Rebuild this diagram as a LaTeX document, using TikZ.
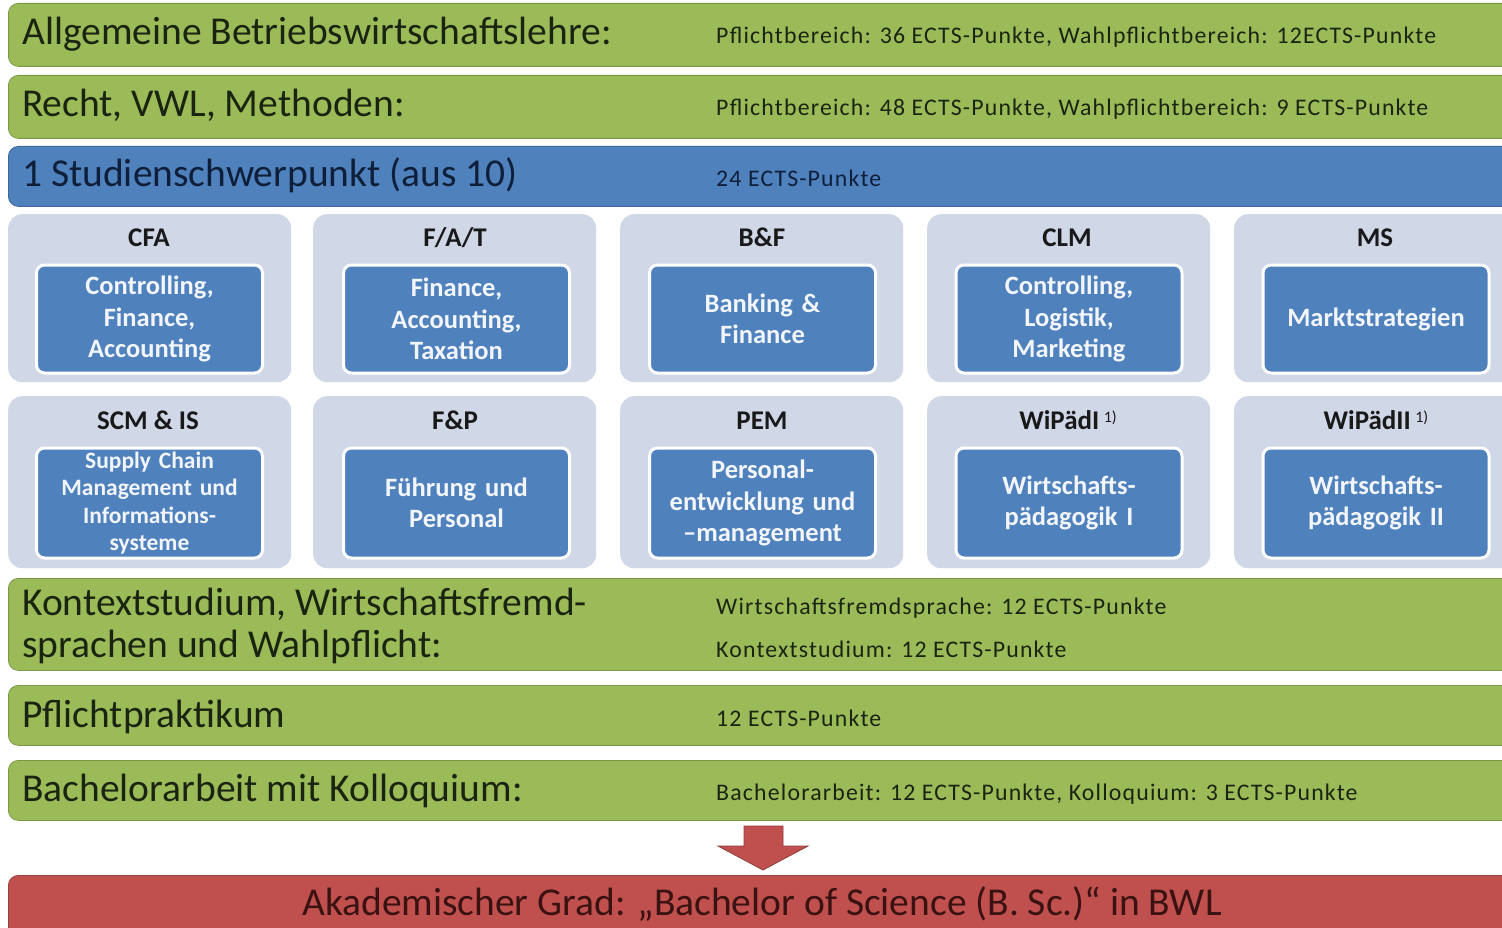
\documentclass[tikz,border=0pt]{standalone}
\usepackage{fontspec}
\setmainfont{Carlito}
\newfontfamily\smfont[LetterSpace=5]{Carlito}
\definecolor{bargreen}{HTML}{9BBB59}
\definecolor{barblue}{HTML}{4F81BD}
\definecolor{panelc}{HTML}{D0D7E7}
\definecolor{barred}{HTML}{C0504D}
\definecolor{gtext}{HTML}{1A2410}
\definecolor{btext}{HTML}{0F1F3A}
\definecolor{rtext}{HTML}{3A1212}
\definecolor{wtext}{HTML}{F2F5FB}
\tikzset{
  gbar/.style={fill=bargreen, draw=bargreen!80!black, line width=0.8pt, rounded corners=10pt, minimum width=1540pt, inner sep=0pt, anchor=north west},
  bbar/.style={gbar, fill=barblue, draw=barblue!80!black},
  rbar/.style={gbar, fill=barred, draw=barred!80!black},
  bigtxt/.style={font=\fontsize{39.5}{44}\selectfont, inner sep=0pt, anchor=base west},
  smtxt/.style={font=\smfont\fontsize{23.8}{26}\selectfont, inner sep=0pt, anchor=base west},
  panel/.style={fill=panelc, rounded corners=14pt, minimum width=283pt, inner sep=0pt, anchor=north west},
  ttl/.style={font=\bfseries\fontsize{27}{30}\selectfont, text=black!90, inner sep=0pt, anchor=base},
  inbox/.style={fill=barblue, draw=white, line width=3pt, rounded corners=8pt, minimum width=226pt, text width=222pt, align=center, text=wtext, font=\bfseries\fontsize{26.5}{31.5}\selectfont, inner sep=0pt},
  inboxs/.style={inbox, font=\bfseries\fontsize{23.5}{27.3}\selectfont},
  sup/.style={font=\mdseries\fontsize{16}{16}\selectfont}
}
\begin{document}
\begin{tikzpicture}[x=1pt,y=-1pt]
\useasboundingbox (0,0) rectangle (1502,928);
\clip (0,0) rectangle (1502,928);
\fill[white] (0,0) rectangle (1502,928);

% top bars
\node[gbar, minimum height=63pt] (abwl) at (8,3) {};
\node[bigtxt, text=gtext] (abwlT) at (22,45) {Allgemeine Betriebswirtschaftslehre:};
\node[smtxt, text=gtext] (abwlP) at (716,44) {Pflichtbereich: 36 ECTS-Punkte, Wahlpflichtbereich: 12ECTS-Punkte};

\node[gbar, minimum height=63pt] (rvm) at (8,75) {};
\node[bigtxt, text=gtext] (rvmT) at (22,117) {Recht, VWL, Methoden:};
\node[smtxt, text=gtext] (rvmP) at (716,116) {Pflichtbereich: 48 ECTS-Punkte, Wahlpflichtbereich: 9 ECTS-Punkte};

\node[bbar, minimum height=60pt] (ssp) at (8,146) {};
\node[bigtxt, text=btext] (sspT) at (22,187) {1 Studienschwerpunkt (aus 10)};
\node[smtxt, text=btext] (sspP) at (716,187) {24 ECTS-Punkte};

% grid row 1
\node[panel, minimum height=168pt] (p11) at (8,214) {};
\node[panel, minimum height=168pt] (p12) at (313,214) {};
\node[panel, minimum height=168pt] (p13) at (620,214) {};
\node[panel, minimum height=168pt] (p14) at (927,214) {};
\node[panel, minimum height=168pt] (p15) at (1234,214) {};
\node[ttl] (t11) at (149,247) {CFA};
\node[ttl] (t12) at (455,247) {F/A/T};
\node[ttl] (t13) at (762,247) {B\&F};
\node[ttl] (t14) at (1067,247) {CLM};
\node[ttl] (t15) at (1375,247) {MS};
\node[inbox, minimum height=108pt] (b11) at (149.5,319) {Controlling,\\Finance,\\Accounting};
\node[inbox, minimum height=108pt] (b12) at (456.5,319) {Finance,\\Accounting,\\Taxation};
\node[inbox, minimum height=108pt] (b13) at (762.5,319) {Banking \&\\Finance};
\node[inbox, minimum height=108pt] (b14) at (1069,319) {Controlling,\\Logistik,\\Marketing};
\node[inbox, minimum height=108pt] (b15) at (1376,319) {Marktstrategien};

% grid row 2
\node[panel, minimum height=172pt] (p21) at (8,396) {};
\node[panel, minimum height=172pt] (p22) at (313,396) {};
\node[panel, minimum height=172pt] (p23) at (620,396) {};
\node[panel, minimum height=172pt] (p24) at (927,396) {};
\node[panel, minimum height=172pt] (p25) at (1234,396) {};
\node[ttl] (t21) at (148,429) {SCM \& IS};
\node[ttl] (t22) at (455,429) {F\&P};
\node[ttl] (t23) at (762,429) {PEM};
\node[ttl] (t24) at (1068,429) {WiPädI\,\raisebox{7pt}{\tikz[baseline]\node[sup,inner sep=0pt]{1)};}};
\node[ttl] (t25) at (1376,429) {WiPädII\,\raisebox{7pt}{\tikz[baseline]\node[sup,inner sep=0pt]{1)};}};
\node[inboxs, minimum height=110pt] (b21) at (149.5,503) {Supply Chain\\Management und\\Informations-\\systeme};
\node[inbox, minimum height=110pt] (b22) at (456.5,503) {Führung und\\Personal};
\node[inbox, minimum height=110pt] (b23) at (762.5,503) {Personal-\\entwicklung und\\–management};
\node[inbox, minimum height=110pt] (b24) at (1069,503) {Wirtschafts-\\pädagogik I};
\node[inbox, minimum height=110pt] (b25) at (1376,503) {Wirtschafts-\\pädagogik II};

% lower bars
\node[gbar, minimum height=92pt] (kon) at (8,578) {};
\node[bigtxt, text=gtext] (konT1) at (22,615) {Kontextstudium, Wirtschaftsfremd-};
\node[bigtxt, text=gtext] (konT2) at (22,657) {sprachen und Wahlpflicht:};
\node[smtxt, text=gtext] (konP1) at (716,614) {Wirtschaftsfremdsprache: 12 ECTS-Punkte};
\node[smtxt, text=gtext] (konP2) at (716,657) {Kontextstudium: 12 ECTS-Punkte};

\node[gbar, minimum height=60pt] (prak) at (8,685) {};
\node[bigtxt, text=gtext] (prakT) at (22,727) {Pflichtpraktikum};
\node[smtxt, text=gtext] (prakP) at (716,726) {12 ECTS-Punkte};

\node[gbar, minimum height=60pt] (bach) at (8,760) {};
\node[bigtxt, text=gtext] (bachT) at (22,801) {Bachelorarbeit mit Kolloquium:};
\node[smtxt, text=gtext] (bachP) at (716,800) {Bachelorarbeit: 12 ECTS-Punkte, Kolloquium: 3 ECTS-Punkte};

\node[rbar, minimum height=70pt] (grad) at (8,875) {};
\node[font=\fontsize{39.5}{44}\selectfont, text=rtext, inner sep=0pt, anchor=base] (gradT) at (762,915) {Akademischer Grad: „Bachelor of Science (B. Sc.)“ in BWL};

% arrow
\coordinate (atip) at (763,870);
\fill[barred, draw=barred!75!black, line width=0.8pt]
  (744,826) -- (783,826) -- (783,846) -- (808,846) -- (atip) -- (718,846) -- (744,846) -- cycle;
\end{tikzpicture}
\end{document}
